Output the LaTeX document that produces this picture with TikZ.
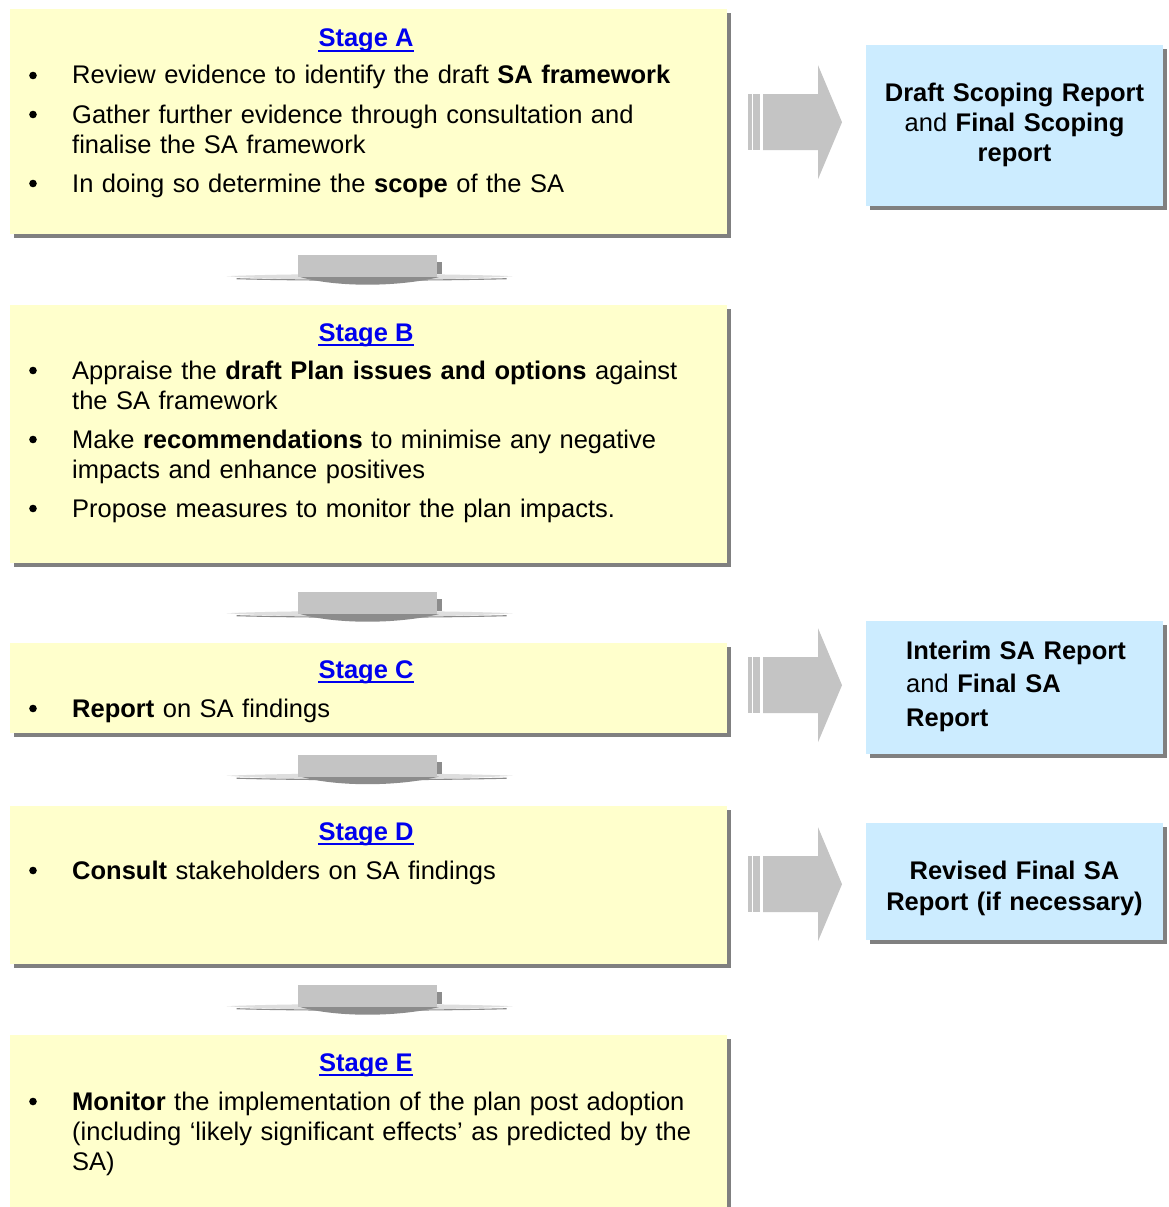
\documentclass[tikz,border=0pt]{standalone}
\usepackage{fontspec}
\setmainfont{Liberation Sans}
\usetikzlibrary{shadows,calc}
\definecolor{boxyellow}{RGB}{255,255,204}
\definecolor{boxblue}{RGB}{204,236,255}
\definecolor{shadowgray}{RGB}{128,128,128}
\definecolor{arrowgray}{RGB}{196,196,196}
\definecolor{arrowdark}{RGB}{140,140,140}
\definecolor{arrowlight}{RGB}{222,222,222}
\definecolor{headblue}{RGB}{0,0,238}
\tikzset{
  panel/.style={rectangle, draw=none, inner sep=0pt, anchor=north west,
    general shadow={fill=shadowgray, shadow xshift=4pt, shadow yshift=-4pt}},
  stagebox/.style={panel, fill=boxyellow, minimum width=717pt},
  outbox/.style={panel, fill=boxblue, minimum width=297pt},
  txt/.style={inner sep=0pt, font=\fontsize{25.5}{30}\selectfont},
  head/.style={txt, anchor=base, text=headblue, font=\fontsize{25.5}{30}\selectfont\bfseries},
  uline/.style={headblue, line width=2.2pt},
  item/.style={txt, anchor=base west, text width=660pt, align=left},
  outtxt/.style={txt, text width=300pt},
  rarrow/.pic={
    \fill[arrowgray] (0,-28) rectangle (3.6,28);
    \fill[arrowgray] (5.4,-28) rectangle (12,28);
    \fill[arrowgray] (15,-28) -- (70,-28) -- (70,-57) -- (94,0) -- (70,57) -- (70,28) -- (15,28) -- cycle;
  },
  darrow/.pic={
    \fill[arrowlight] (-140,10) .. controls (-70,7) and (70,7) .. (146,10)
       .. controls (70,15) and (-70,15) .. cycle;
    \draw[arrowdark, line width=1.1pt] (-130,12.5) .. controls (-60,14.5) and (60,14.5) .. (140,12.5);
    \fill[arrowdark] (-66,11) .. controls (-30,21) and (30,21) .. (72,11) -- cycle;
    \fill[arrowgray] (-69,-11) rectangle (70,11);
    \fill[arrowdark] (70,-4) rectangle (75,8);
  }
}
\newcommand\stagehead[3]{%
  \node[head] (#1) at (#2) {#3};
  \draw[uline] ([yshift=-4pt]#1.base west) -- ([yshift=-4pt]#1.base east);}
\newcommand\bulletitem[3]{%
  \node[item] (#1) at (72,#2) {#3};
  \fill ([xshift=-39pt,yshift=8.5pt]#1.base west) circle (3.8pt);}
\begin{document}
\begin{tikzpicture}[x=1pt, y=-1pt]
\useasboundingbox (0,0) rectangle (1168,1207);
\fill[white] (0,0) rectangle (1168,1207);

% stage boxes
\node[stagebox, minimum height=225pt] (sA) at (10,9) {};
\node[stagebox, minimum height=258pt] (sB) at (10,305) {};
\node[stagebox, minimum height=90pt] (sC) at (10,643) {};
\node[stagebox, minimum height=158pt] (sD) at (10,806) {};
\node[stagebox, minimum height=200pt] (sE) at (10,1035) {};

% output boxes
\node[outbox, minimum height=161pt] (rA) at (866,45) {};
\node[outbox, minimum height=133pt] (rC) at (866,621) {};
\node[outbox, minimum height=117pt] (rD) at (866,823) {};

% Stage A
\stagehead{hA}{366,47}{Stage A}
\bulletitem{iA1}{84}{Review evidence to identify the draft \textbf{SA framework}}
\bulletitem{iA2}{123}{Gather further evidence through consultation and\\finalise the SA framework}
\bulletitem{iA3}{192}{In doing so determine the \textbf{scope} of the SA}

% Stage B
\stagehead{hB}{366,341}{Stage B}
\bulletitem{iB1}{379}{Appraise the \textbf{draft Plan issues and options} against\\the SA framework}
\bulletitem{iB2}{448}{Make \textbf{recommendations} to minimise any negative\\impacts and enhance positives}
\bulletitem{iB3}{517}{Propose measures to monitor the plan impacts.}

% Stage C
\stagehead{hC}{366,678}{Stage C}
\bulletitem{iC1}{717}{\textbf{Report} on SA findings}

% Stage D
\stagehead{hD}{366,840}{Stage D}
\bulletitem{iD1}{879}{\textbf{Consult} stakeholders on SA findings}

% Stage E
\stagehead{hE}{366,1071}{Stage E}
\bulletitem{iE1}{1110}{\textbf{Monitor} the implementation of the plan post adoption\\(including ‘likely significant effects’ as predicted by the\\SA)}

% output texts
\node[outtxt, anchor=base, align=center] (tA) at (1014.5,101)
  {\textbf{Draft Scoping Report}\\and \textbf{Final Scoping}\\\textbf{report}};
\node[outtxt, anchor=base west, align=left, font=\fontsize{25.5}{33.5}\selectfont] (tC) at (906,659)
  {\textbf{Interim SA Report}\\and \textbf{Final SA}\\\textbf{Report}};
\node[outtxt, anchor=base, align=center, font=\fontsize{25.5}{31}\selectfont] (tD) at (1014.5,879)
  {\textbf{Revised Final SA}\\\textbf{Report (if necessary)}};

% right arrows (stage -> output)
\path (rA.west) ++(-118,-3.5) pic {rarrow};
\path (rC.west) ++(-118,-2.5) pic {rarrow};
\path (rD.west) ++(-118,2.5) pic {rarrow};

% down arrows (stage -> stage)
\path ($(sA.south)!0.5!(sB.north)$) ++(-2,-3.5) pic {darrow};
\path ($(sB.south)!0.5!(sC.north)$) ++(-2,0) pic {darrow};
\path ($(sC.south)!0.5!(sD.north)$) ++(-2,-4) pic {darrow};
\path ($(sD.south)!0.5!(sE.north)$) ++(-2,-3.5) pic {darrow};
\end{tikzpicture}
\end{document}
